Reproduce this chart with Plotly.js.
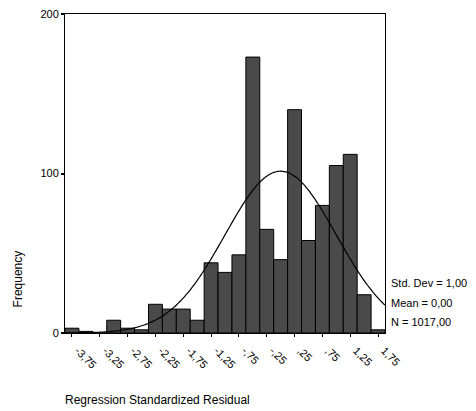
<!DOCTYPE html>
<html>
<head>
<meta charset="utf-8">
<script src="https://cdn.plot.ly/plotly-3.0.1.min.js"></script>
<style>
  html, body { margin: 0; padding: 0; background: #fff; }
  #chart { width: 476px; height: 411px; }
</style>
</head>
<body>
<div id="chart"></div>
<script>
// Bin centers (bin width 0.25)
const binCenters = [-3.75, -3.5, -3.25, -3.0, -2.75, -2.5, -2.25, -2.0, -1.75, -1.5,
                    -1.25, -1.0, -0.75, -0.5, -0.25, 0.0, 0.25, 0.5, 0.75, 1.0,
                    1.25, 1.5, 1.75];
// Frequencies
const frequencies = [3, 1, 0, 8, 3, 2, 18, 15, 15, 8,
                     44, 38, 49, 173, 65, 46, 140, 58, 80, 105,
                     112, 24, 2];
// Tick labels (SPSS style, comma decimal)
const tickValues = [-3.75, -3.25, -2.75, -2.25, -1.75, -1.25, -0.75, -0.25, 0.25, 0.75, 1.25, 1.75];
const tickLabels = ["-3,75", "-3,25", "-2,75", "-2,25", "-1,75", "-1,25", "-,75", "-,25", ",25", ",75", "1,25", "1,75"];
const yTickValues = [0, 100, 200];
// Stated statistics of the fitted normal curve
const meanVal = 0.0;
const sdVal = 1.0;
const nVal = 1017;
const binWidth = 0.25;
const statLines = ["Std. Dev = 1,00", "Mean = 0,00", "N = 1017,00"];

const xMin = binCenters[0] - binWidth / 2;
const xMax = binCenters[binCenters.length - 1] + binWidth / 2;

// Normal curve implied by the stated mean, SD and N
const curveX = [];
const curveY = [];
const steps = 200;
for (let i = 0; i <= steps; i++) {
  const x = xMin + (xMax - xMin) * i / steps;
  const z = (x - meanVal) / sdVal;
  curveX.push(x);
  curveY.push(nVal * binWidth * Math.exp(-0.5 * z * z) / (sdVal * Math.sqrt(2 * Math.PI)));
}

const font = "Liberation Sans, Arial, Helvetica, sans-serif";

const traces = [
  {
    type: "bar",
    x: binCenters,
    y: frequencies,
    width: binWidth,
    marker: { color: "#4a4a4a", line: { color: "#000", width: 1 } },
    hoverinfo: "x+y"
  },
  {
    type: "scatter",
    mode: "lines",
    x: curveX,
    y: curveY,
    line: { color: "#000", width: 1.2, shape: "spline" },
    hoverinfo: "skip"
  }
];

const annotations = [
  {
    text: "Regression Standardized Residual",
    xref: "paper", yref: "paper", x: 0, y: -0.2,
    xanchor: "left", yanchor: "middle", yshift: -3, xshift: -2,
    showarrow: false, font: { family: font, size: 12, color: "#000" }
  },
  {
    text: "Frequency",
    xref: "paper", yref: "paper", x: -0.148, y: 0.17,
    xanchor: "center", yanchor: "middle", textangle: -90,
    showarrow: false, font: { family: font, size: 12, color: "#000" }
  }
];
statLines.forEach((t, i) => {
  annotations.push({
    text: t,
    xref: "paper", yref: "paper", x: 1.0, y: 0.157 - i * 0.0615,
    xanchor: "left", yanchor: "middle", xshift: 4,
    showarrow: false, font: { family: font, size: 11, color: "#000" }
  });
});

const layout = {
  width: 476,
  height: 411,
  margin: { l: 65, r: 91, t: 14, b: 78 },
  paper_bgcolor: "#fff",
  plot_bgcolor: "#fff",
  showlegend: false,
  bargap: 0,
  font: { family: font, size: 11, color: "#000" },
  xaxis: {
    range: [xMin, xMax],
    tickmode: "array",
    tickvals: tickValues,
    ticktext: tickLabels,
    tickangle: 45,
    ticks: "outside",
    ticklen: 3,
    tickcolor: "#000",
    ticklabelshift: 6,
    ticklabelstandoff: 3,
    showgrid: false,
    zeroline: false,
    showline: true,
    linecolor: "#000",
    linewidth: 1,
    mirror: true,
    tickfont: { family: font, size: 11, color: "#000" }
  },
  yaxis: {
    range: [0, 200],
    tickmode: "array",
    tickvals: yTickValues,
    ticks: "outside",
    ticklen: 3,
    tickwidth: 2,
    tickcolor: "#000",
    showgrid: false,
    zeroline: false,
    showline: true,
    linecolor: "#000",
    linewidth: 1,
    mirror: true,
    tickfont: { family: font, size: 11, color: "#000" }
  },
  annotations: annotations
};

Plotly.newPlot("chart", traces, layout, { displayModeBar: false, staticPlot: true });
</script>
</body>
</html>
